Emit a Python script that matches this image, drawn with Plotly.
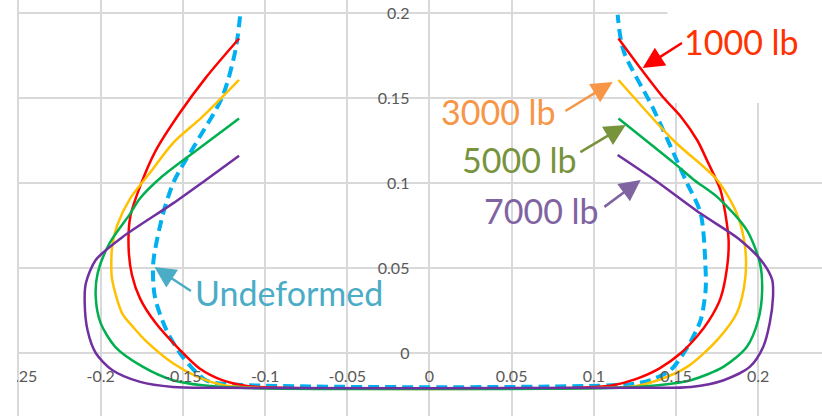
import plotly.graph_objects as go

# Cross-section profiles (x, y) under increasing load, traced left top -> bottom -> right top
undeformed_x = [-0.1152, -0.118, -0.126, -0.142, -0.155, -0.162, -0.168, -0.167, -0.160, -0.150, -0.136, -0.120,
                0.120, 0.1345, 0.1467, 0.157, 0.165, 0.168, 0.168, 0.165, 0.1558, 0.136, 0.118, 0.1145]
undeformed_y = [0.198, 0.178, 0.1506, 0.1235, 0.1018, 0.082, 0.053, 0.033, 0.0135, -0.0024, -0.016, -0.0185,
                -0.0185, -0.0159, -0.010, 0.0035, 0.0194, 0.037, 0.0488, 0.082, 0.1018, 0.144, 0.178, 0.199]

lb1000_x = [-0.1158, -0.136, -0.152, -0.1665, -0.176, -0.182, -0.183, -0.181, -0.176, -0.1665, -0.152, -0.140,
            -0.126, -0.110, -0.090, 0.090, 0.110, 0.125, 0.140, 0.153, 0.163, 0.170, 0.177, 0.181, 0.182, 0.180,
            0.177, 0.169, 0.163, 0.153, 0.142, 0.128, 0.115]
lb1000_y = [0.185, 0.162, 0.141, 0.119, 0.098, 0.080, 0.062, 0.046, 0.032, 0.0176, 0.002, -0.009,
            -0.016, -0.0195, -0.0205, -0.0205, -0.0193, -0.0155, -0.009, 0.0, 0.010, 0.019, 0.032, 0.050, 0.066, 0.082,
            0.096, 0.113, 0.125, 0.139, 0.1506, 0.168, 0.185]

lb3000_x = [-0.1158, -0.138, -0.156, -0.170, -0.182, -0.190, -0.193, -0.1935, -0.193, -0.187, -0.180, -0.173,
            -0.156, -0.140, -0.125, -0.105, 0.105, 0.125, 0.139, 0.157, 0.175, 0.187, 0.192, 0.192, 0.187,
            0.175, 0.1485, 0.115]
lb3000_y = [0.1606, 0.139, 0.1235, 0.106, 0.091, 0.075, 0.0624, 0.050, 0.043, 0.0235, 0.015, 0.0076,
            -0.006, -0.0145, -0.019, -0.0205, -0.0205, -0.0195, -0.016, -0.008, 0.0076, 0.0235, 0.043, 0.0624, 0.082,
            0.1018, 0.125, 0.1606]

lb5000_x = [-0.1158, -0.142, -0.163, -0.176, -0.182, -0.1945, -0.2018, -0.203, -0.200, -0.191, -0.1745, -0.156,
            -0.138, -0.115, 0.115, 0.139, 0.159, 0.179, 0.193, 0.200, 0.2024, 0.201, 0.193, 0.176, 0.161,
            0.1485, 0.115]
lb5000_y = [0.138, 0.119, 0.1035, 0.091, 0.082, 0.0647, 0.047, 0.033, 0.0176, 0.0035, -0.008, -0.016,
            -0.019, -0.0205, -0.0205, -0.019, -0.016, -0.008, 0.0035, 0.0194, 0.037, 0.053, 0.0724, 0.091, 0.1018,
            0.112, 0.138]

lb7000_x = [-0.1158, -0.136, -0.156, -0.187, -0.203, -0.209, -0.2097, -0.208, -0.203, -0.193, -0.176, -0.156,
            -0.130, 0.130, 0.159, 0.179, 0.195, 0.203, 0.207, 0.209, 0.2085, 0.203, 0.189, 0.165, 0.137,
            0.1145]
lb7000_y = [0.116, 0.1018, 0.088, 0.068, 0.0547, 0.041, 0.0294, 0.0135, 0.0, -0.010, -0.017, -0.020,
            -0.0205, -0.0205, -0.020, -0.016, -0.008, 0.0035, 0.0176, 0.033, 0.043, 0.053, 0.0665, 0.082, 0.1018,
            0.1165]

# Axis ticks
x_tickvals = [-0.25, -0.2, -0.15, -0.1, -0.05, 0, 0.05, 0.1, 0.15, 0.2]
x_ticktext = ["-0.25", "-0.2", "-0.15", "-0.1", "-0.05", "0", "0.05", "0.1", "0.15", "0.2"]
y_tickvals = [0, 0.05, 0.1, 0.15, 0.2]
y_ticktext = ["0", "0.05", "0.1", "0.15", "0.2"]

# Callout labels: text, text position, arrow tail, arrow head
label_text = ["1000 lb", "3000 lb", "5000 lb", "7000 lb", "Undeformed"]
label_x = [0.1900, 0.0418, 0.0545, 0.0679, -0.0855]
label_y = [0.1835, 0.1418, 0.1141, 0.0841, 0.0353]
tail_x = [0.1545, 0.0818, 0.0909, 0.1055, -0.1442]
tail_y = [0.1829, 0.1418, 0.1176, 0.0853, 0.0359]
head_x = [0.1297, 0.1115, 0.1194, 0.1285, -0.1673]
head_y = [0.1676, 0.1594, 0.1341, 0.1018, 0.0506]
label_color = ["#FF3300", "#F79646", "#77933C", "#8064A2", "#4BACC6"]
arrow_color = ["#FF0000", "#F79646", "#77933C", "#8064A2", "#4BACC6"]

x_range = [-0.2594, 0.2388]
y_range = [-0.03706, 0.20765]

fig = go.Figure()

fig.add_trace(go.Scatter(x=undeformed_x, y=undeformed_y, mode="lines",
                         line=dict(color="#00B0F0", width=4, dash="11px,6px", shape="spline", smoothing=0.8)))
for xs, ys, col in [(lb1000_x, lb1000_y, "#FF0000"),
                    (lb3000_x, lb3000_y, "#FFC000"),
                    (lb5000_x, lb5000_y, "#00B050"),
                    (lb7000_x, lb7000_y, "#7030A0")]:
    fig.add_trace(go.Scatter(x=xs, y=ys, mode="lines",
                             line=dict(color=col, width=2.5, shape="spline", smoothing=0.8)))

# white backing behind the top-right callout
fig.add_shape(type="rect", layer="between", xref="x", yref="y",
              x0=0.1448, x1=0.26, y0=0.147, y1=0.25,
              fillcolor="white", line=dict(width=0))
# blank strip along the left edge of the chart area
fig.add_shape(type="rect", layer="above", xref="paper", yref="paper",
              x0=-0.01, x1=14 / 822, y0=-0.01, y1=1.01,
              fillcolor="white", line=dict(width=0))

for i, t in enumerate(label_text):
    fig.add_annotation(x=label_x[i], y=label_y[i], text=t, showarrow=False,
                       xanchor="center", yanchor="middle",
                       font=dict(family="Lato", size=34, color=label_color[i]))
    fig.add_annotation(x=head_x[i], y=head_y[i], ax=tail_x[i], ay=tail_y[i],
                       axref="x", ayref="y", text="", showarrow=True,
                       arrowhead=2, arrowsize=1.7, arrowwidth=2.5,
                       arrowcolor=arrow_color[i], standoff=0, startstandoff=0)

tick_font = dict(family="Lato", size=16, color="#595959")
fig.update_layout(
    width=822, height=416,
    margin=dict(l=0, r=0, t=0, b=0),
    plot_bgcolor="white", paper_bgcolor="white",
    showlegend=False,
    xaxis=dict(range=x_range, tickmode="array", tickvals=x_tickvals, ticktext=x_ticktext,
               showgrid=True, gridcolor="#D9D9D9", gridwidth=1.5,
               zeroline=False, showline=False, ticks="", tickfont=tick_font,
               anchor="free", position=(0 - y_range[0]) / (y_range[1] - y_range[0]),
               ticklabelstandoff=12, ticklabeloverflow="allow", fixedrange=True),
    yaxis=dict(range=y_range, tickmode="array", tickvals=y_tickvals, ticktext=y_ticktext,
               showgrid=True, gridcolor="#D9D9D9", gridwidth=1.5,
               zeroline=False, showline=False, ticks="", tickfont=tick_font,
               anchor="free", position=(0 - x_range[0]) / (x_range[1] - x_range[0]),
               ticklabelstandoff=20, fixedrange=True),
)

fig.write_html("out.html")
